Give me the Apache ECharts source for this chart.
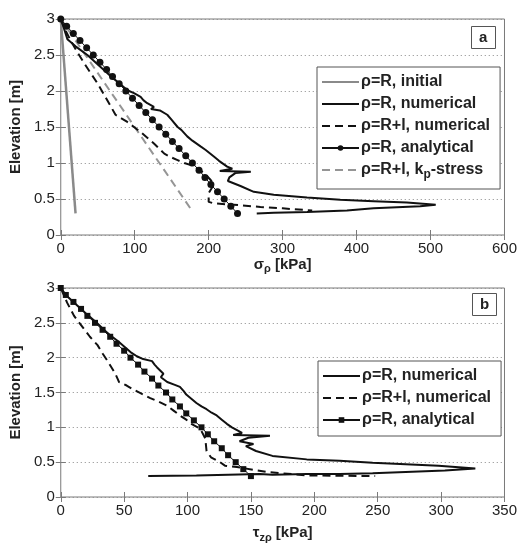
<!DOCTYPE html>
<html>
<head>
<meta charset="utf-8">
<script src="https://cdn.jsdelivr.net/npm/echarts@6/dist/echarts.min.js"></script>
<style>
html, body { margin: 0; padding: 0; background: #fff; }
#chart { width: 520px; height: 544px; }
</style>
</head>
<body>
<div id="chart"></div>
<script>
// ---- panel a: radial stress sigma_rho vs elevation ----
var aInitX = [0, 20];
var aInitY = [3, 0.3];
var aKpX = [0, 178];
var aKpY = [3, 0.33];
var anaElev = [3.0, 2.9, 2.8, 2.7, 2.6, 2.5, 2.4, 2.3, 2.2, 2.1, 2.0, 1.9, 1.8, 1.7,
               1.6, 1.5, 1.4, 1.3, 1.2, 1.1, 1.0, 0.9, 0.8, 0.7, 0.6, 0.5, 0.4, 0.3];
var aAnaX = [0, 8, 17, 26, 35, 44, 53, 62, 70, 79, 88, 97, 106, 115,
             124, 133, 142, 151, 160, 169, 178, 187, 195, 203, 212, 221, 230, 239];
var aNumRX = [0, 4, 9, 20, 36, 52, 68, 80, 90, 99, 108, 112, 117, 126, 122, 134, 144, 150, 158, 163,
              171, 178, 189, 196, 207, 214, 225, 232, 215, 257, 236, 228, 226, 243, 261, 288, 333,
              378, 423, 468, 507, 486, 423, 387, 333, 288, 265];
var aNumRY = [3, 2.88, 2.72, 2.62, 2.5, 2.35, 2.2, 2.1, 2.01, 1.97, 1.92, 1.87, 1.83, 1.78, 1.75, 1.73, 1.67, 1.6, 1.5, 1.46,
              1.37, 1.31, 1.23, 1.18, 1.09, 1.03, 0.95, 0.92, 0.89, 0.88, 0.86, 0.8, 0.75, 0.68, 0.6, 0.56, 0.52,
              0.49, 0.47, 0.45, 0.42, 0.4, 0.37, 0.34, 0.32, 0.31, 0.3];
var aNumRlX = [0, 6, 14, 23, 32, 41, 50, 59, 68, 74, 82, 90, 99, 108, 117, 126, 133, 140, 149, 158,
               167, 176, 185, 194, 203, 207, 200, 200, 207, 234, 270, 300, 340];
var aNumRlY = [3, 2.85, 2.69, 2.53, 2.38, 2.24, 2.1, 1.94, 1.78, 1.67, 1.62, 1.57, 1.5, 1.43, 1.35, 1.27, 1.2, 1.13, 1.08, 1.04,
               1.0, 0.97, 0.92, 0.86, 0.76, 0.7, 0.58, 0.46, 0.44, 0.42, 0.39, 0.37, 0.34];

// ---- panel b: shear stress tau_zrho vs elevation ----
var bAnaX = [0, 4, 10, 16, 21, 27, 33, 39, 44, 50, 55, 61, 66, 72,
             77, 83, 88, 94, 99, 105, 111, 116, 121, 127, 132, 138, 144, 150];
var bNumRX = [0, 5, 10, 16, 22, 29, 34, 39, 45, 50, 55, 60, 65, 72, 74, 76, 81, 79, 84, 90, 94, 97, 99,
              103, 107, 111, 115, 119, 123, 127, 131, 135, 139, 143, 136, 165, 148, 141, 152, 146,
              154, 167, 194, 220, 246, 272, 298, 327, 303, 272, 246, 220, 194, 167, 157, 107, 69];
var bNumRY = [3, 2.88, 2.8, 2.7, 2.6, 2.49, 2.4, 2.32, 2.24, 2.16, 2.08, 2.02, 1.98, 1.95, 1.9, 1.86, 1.77, 1.72, 1.65, 1.61, 1.58, 1.52, 1.47,
              1.41, 1.35, 1.3, 1.26, 1.21, 1.17, 1.11, 1.05, 1.0, 0.96, 0.92, 0.89, 0.88, 0.85, 0.8, 0.76, 0.73,
              0.66, 0.59, 0.54, 0.52, 0.49, 0.47, 0.45, 0.41, 0.38, 0.36, 0.34, 0.33, 0.33, 0.32, 0.33, 0.31, 0.3];
var bNumRlX = [0, 5, 10.5, 18, 23, 29, 33, 37, 43, 46, 52, 57.5, 64, 70.6, 77, 84, 89, 94, 99, 103, 110,
               114, 115, 118.5, 125.6, 129.5, 139, 152, 162, 194, 248];
var bNumRlY = [3, 2.79, 2.6, 2.42, 2.3, 2.18, 2.06, 1.95, 1.77, 1.65, 1.6, 1.54, 1.48, 1.42, 1.37, 1.31, 1.24, 1.17, 1.11, 1.05, 0.98,
               0.84, 0.66, 0.57, 0.5, 0.45, 0.43, 0.39, 0.36, 0.31, 0.3];

var legendText = {
  a_init: 'ρ=R, initial',
  a_numR: 'ρ=R, numerical',
  a_numRl: 'ρ=R+l, numerical',
  a_ana: 'ρ=R, analytical',
  a_kp: 'ρ=R+l, k{sub|p}-stress',
  b_numR: 'ρ=R, numerical',
  b_numRl: 'ρ=R+l, numerical',
  b_ana: 'ρ=R, analytical'
};

function pairs(xs, ys) {
  return xs.map(function (x, i) { return [x, ys[i]]; });
}

var frame = '#7a7a7a';
var labelStyle = { color: '#222', fontSize: 15, fontFamily: 'Liberation Sans', margin: 6 };
var nameRich = {
  s: { fontSize: 15, fontWeight: 'bold', fontFamily: 'Liberation Sans', color: '#222' },
  sub: { fontSize: 11, fontWeight: 'bold', fontFamily: 'Liberation Sans', color: '#222', padding: [9, 0, 0, 0] }
};

function xAxes(grid, max, interval, name, gap) {
  return [
    { gridIndex: grid, type: 'value', min: 0, max: max, interval: interval,
      name: name, nameLocation: 'middle', nameGap: gap, nameTextStyle: { rich: nameRich },
      axisLine: { show: false }, axisTick: { inside: true, length: 5, lineStyle: { color: frame } },
      axisLabel: labelStyle, splitLine: { show: false } },
    { gridIndex: grid, type: 'value', position: 'top', min: 0, max: max, interval: interval,
      axisLine: { show: false }, axisTick: { inside: true, length: 5, lineStyle: { color: frame } },
      axisLabel: { show: false }, splitLine: { show: false } }
  ];
}
function yAxes(grid) {
  return [
    { gridIndex: grid, type: 'value', min: 0, max: 3, interval: 0.5,
      name: 'Elevation [m]', nameLocation: 'middle', nameGap: 33,
      nameTextStyle: { fontSize: 15, fontWeight: 'bold', fontFamily: 'Liberation Sans', color: '#222' },
      axisLine: { show: false }, axisTick: { inside: true, length: 5, lineStyle: { color: frame } },
      axisLabel: labelStyle,
      splitLine: { show: true, lineStyle: { type: [1, 3], color: '#888', width: 1 } } },
    { gridIndex: grid, type: 'value', position: 'right', min: 0, max: 3, interval: 0.5,
      axisLine: { show: false }, axisTick: { inside: true, length: 5, lineStyle: { color: frame } },
      axisLabel: { show: false }, splitLine: { show: false } }
  ];
}

function lineSeries(name, xi, yi, data, color, width, dash, sym, symSize) {
  return {
    name: name, type: 'line', xAxisIndex: xi, yAxisIndex: yi, data: data,
    symbol: sym || 'none', symbolSize: symSize || 0, showSymbol: !!sym,
    // no marker: transparent fill so the legend icon shows only the line
    itemStyle: { color: sym ? color : 'rgba(0,0,0,0)' }, animation: false, silent: true,
    lineStyle: { color: color, width: width, type: dash || 'solid' }
  };
}

var legendBase = {
  orient: 'vertical', itemWidth: 37, itemHeight: 7, itemGap: 6,
  borderColor: '#555', borderWidth: 1, backgroundColor: '#fff',
  padding: [7, 10, 8, 4], selectedMode: false,
  formatter: function (n) { return legendText[n]; },
  textStyle: {
    fontSize: 16, fontWeight: 'bold', fontFamily: 'Liberation Sans', color: '#222', padding: [0, 0, 0, -3],
    rich: { sub: { fontSize: 12, fontWeight: 'bold', fontFamily: 'Liberation Sans', color: '#222', padding: [10, 0, 0, 0] } }
  }
};

var chart = echarts.init(document.getElementById('chart'), null, { renderer: 'canvas' });
var option = {
  backgroundColor: '#fff',
  animation: false,
  title: [
    { text: 'a', left: 471, top: 26, padding: [4, 8, 4, 8], borderWidth: 1, borderColor: '#555',
      textStyle: { fontSize: 15, fontWeight: 'bold', fontFamily: 'Liberation Sans', color: '#222' } },
    { text: 'b', left: 472, top: 293, padding: [4, 8, 4, 8], borderWidth: 1, borderColor: '#555',
      textStyle: { fontSize: 15, fontWeight: 'bold', fontFamily: 'Liberation Sans', color: '#222' } }
  ],
  grid: [
    { left: 60, top: 19, width: 446, height: 216, show: true, borderColor: frame, borderWidth: 1, backgroundColor: 'transparent' },
    { left: 60, top: 288, width: 446, height: 216, show: true, borderColor: frame, borderWidth: 1, backgroundColor: 'transparent' }
  ],
  xAxis: xAxes(0, 600, 100, '{s|σ}{sub|ρ}{s| [kPa]}', 14).concat(xAxes(1, 350, 50, '{s|τ}{sub|zρ}{s| [kPa]}', 26)),
  yAxis: yAxes(0).concat(yAxes(1)),
  legend: [
    Object.assign({}, legendBase, { left: 317, top: 67, data: ['a_init', 'a_numR', 'a_numRl', 'a_ana', 'a_kp'] }),
    Object.assign({}, legendBase, { left: 318, top: 361, data: ['b_numR', 'b_numRl', 'b_ana'] })
  ],
  series: [
    lineSeries('a_init', 0, 0, pairs(aInitX, aInitY), '#8a8a8a', 2.5),
    lineSeries('a_kp', 0, 0, pairs(aKpX, aKpY), '#959595', 2, [8, 5]),
    lineSeries('a_numRl', 0, 0, pairs(aNumRlX, aNumRlY), '#111', 2, [8, 5]),
    lineSeries('a_ana', 0, 0, pairs(aAnaX, anaElev), '#111', 1, null, 'circle', 7),
    lineSeries('a_numR', 0, 0, pairs(aNumRX, aNumRY), '#111', 2),
    lineSeries('b_numRl', 2, 2, pairs(bNumRlX, bNumRlY), '#111', 2, [8, 5]),
    lineSeries('b_ana', 2, 2, pairs(bAnaX, anaElev), '#111', 1, null, 'rect', 6),
    lineSeries('b_numR', 2, 2, pairs(bNumRX, bNumRY), '#111', 2)
  ]
};
chart.setOption(option);
</script>
</body>
</html>
